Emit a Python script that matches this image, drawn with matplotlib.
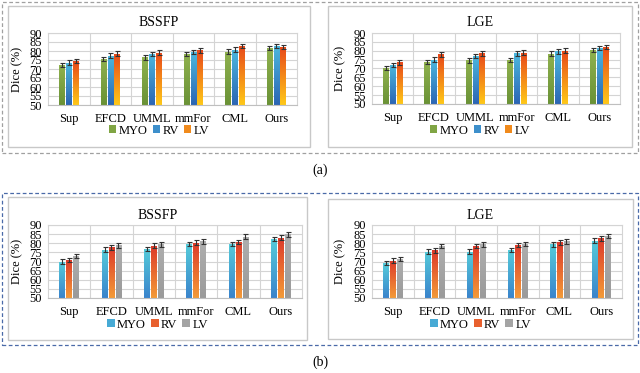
import numpy as np
import matplotlib
matplotlib.use('Agg')
import matplotlib.pyplot as plt
from matplotlib.colors import LinearSegmentedColormap
from matplotlib.patches import Rectangle, Patch

plt.rcParams['font.family'] = ['Liberation Serif', 'DejaVu Serif']

methods = ['Sup', 'EFCD', 'UMML', 'mmFor', 'CML', 'Ours']
series = ['MYO', 'RV', 'LV']
yticks = [50, 55, 60, 65, 70, 75, 80, 85, 90]

# (a) BSSFP
a_bssfp_myo = [72.1, 75.6, 76.5, 78.4, 79.7, 81.7]
a_bssfp_rv = [73.6, 77.3, 78.4, 79.5, 80.8, 82.8]
a_bssfp_lv = [74.3, 78.6, 79.1, 80.4, 82.8, 82.3]
# (a) LGE
a_lge_myo = [70.1, 73.6, 74.6, 74.7, 78.3, 80.3]
a_lge_rv = [72.0, 74.9, 77.2, 78.5, 79.6, 81.6]
a_lge_lv = [73.4, 77.9, 78.5, 79.0, 80.1, 82.2]
# (b) BSSFP
b_bssfp_myo = [70.0, 76.4, 76.9, 79.5, 79.6, 82.2]
b_bssfp_rv = [70.9, 77.8, 78.7, 80.4, 80.7, 83.1]
b_bssfp_lv = [73.1, 78.9, 79.5, 81.1, 83.5, 84.9]
# (b) LGE
b_lge_myo = [69.1, 75.3, 75.3, 76.2, 79.5, 81.5]
b_lge_rv = [70.5, 76.2, 78.4, 79.1, 80.5, 82.7]
b_lge_lv = [71.3, 78.5, 79.5, 79.6, 81.1, 84.0]

# error bar half-widths (estimated)
err_myo = [1.2, 1.3, 1.3, 1.2, 1.3, 1.2]
err_rv = [1.2, 1.4, 1.2, 1.3, 1.3, 1.2]
err_lv = [1.2, 1.3, 1.3, 1.3, 1.3, 1.3]

W, H = 640, 373
fig = plt.figure(figsize=(W / 100, H / 100), dpi=100)


def frect(x0, y0, x1, y1):
    return [x0 / W, 1 - y1 / H, (x1 - x0) / W, (y1 - y0) / H]


def cm(bottom, top):
    return LinearSegmentedColormap.from_list('g', [bottom, top])


cm_a = [cm('#6a9236', '#8fb14e'), cm('#2c66b4', '#4cb8de'), cm('#ffc818', '#e8481a')]
cm_b = [cm('#3a84cc', '#55cbda'), cm('#f39a38', '#dd3a2a'), cm('#9a9a9a', '#aeaeae')]
leg_a = ['#80a544', '#3d8fcb', '#f08a1c']
leg_b = ['#47aad5', '#e8602e', '#a4a4a4']

# outer dashed boxes
fig.patches.append(Rectangle((2 / W, 1 - 153 / H), 636 / W, 151 / H, transform=fig.transFigure,
                             fill=False, ec='#a0a0a0', ls=(0, (3, 2)), lw=0.9, zorder=-2))
fig.patches.append(Rectangle((2 / W, 1 - 345 / H), 636 / W, 152 / H, transform=fig.transFigure,
                             fill=False, ec='#4a6aa8', ls=(0, (3, 2)), lw=0.9, zorder=-2))

fig.text(320 / W, 1 - 170 / H, '(a)', ha='center', va='center', fontsize=10)
fig.text(320 / W, 1 - 362 / H, '(b)', ha='center', va='center', fontsize=10)


def panel(box, axr, title, vals, errs, cmaps, legc, title_y, leg_y, ylab_x):
    bx0, by0, bx1, by1 = box
    fig.patches.append(Rectangle((bx0 / W, 1 - by1 / H), (bx1 - bx0) / W, (by1 - by0) / H,
                                 transform=fig.transFigure, fill=False,
                                 ec='#c8c8c8', lw=1.0, zorder=-1))
    ax = fig.add_axes(frect(*axr))
    ax.set_facecolor('none')
    x = np.arange(len(methods))
    w = 0.13
    offs = [-0.165, 0.0, 0.165]
    for k in range(3):
        bars = ax.bar(x + offs[k], vals[k], w, color='none', edgecolor='none', zorder=2)
        for b in bars:
            x0 = b.get_x()
            im = ax.imshow(np.linspace(0, 1, 64).reshape(-1, 1), extent=[x0, x0 + w, 50, b.get_height()],
                           aspect='auto', cmap=cmaps[k], origin='lower', zorder=2)
            im.set_clip_path(b)
        ax.errorbar(x + offs[k], vals[k], yerr=errs[k], fmt='none', ecolor='#333333',
                    elinewidth=0.8, capsize=1.8, capthick=0.8, zorder=3)
    ax.set_xlim(-0.5, 5.5)
    ax.set_ylim(50, 90)
    ax.set_yticks(yticks)
    ax.set_yticklabels([str(t) for t in yticks], fontsize=9)
    ax.set_xticks(x)
    ax.set_xticklabels(methods, fontsize=9)
    ax.set_xticks(np.arange(0.5, 5.5, 1), minor=True)
    ax.tick_params(axis='x', which='both', length=0, pad=6)
    ax.tick_params(axis='y', length=0, pad=4.5)
    ax.yaxis.grid(True, color='#d4d4d4', lw=0.8)
    ax.xaxis.grid(True, which='minor', color='#d4d4d4', lw=0.8)
    ax.set_axisbelow(True)
    for s in ['top', 'right', 'left']:
        ax.spines[s].set_color('#d4d4d4')
        ax.spines[s].set_linewidth(0.8)
    ax.spines['bottom'].set_color('#bfbfbf')
    ax.spines['bottom'].set_linewidth(0.8)
    cx = (bx0 + bx1) / 2
    fig.text(cx / W, 1 - title_y / H, title, ha='center', va='center', fontsize=10)
    fig.text(ylab_x / W, 1 - (axr[1] + axr[3]) / 2 / H, 'Dice (%)', rotation=90,
             ha='center', va='center', fontsize=9)
    handles = [Patch(facecolor=c, edgecolor='none') for c in legc]
    fig.legend(handles, series, loc='center', bbox_to_anchor=(cx / W, 1 - leg_y / H), ncol=3,
               frameon=False, fontsize=9, handlelength=0.6, handleheight=0.6,
               handletextpad=0.2, columnspacing=0.4, borderpad=0, borderaxespad=0)


panel((8, 6, 310, 147), (48, 33, 297, 105), 'BSSFP',
      [a_bssfp_myo, a_bssfp_rv, a_bssfp_lv], [err_myo, err_rv, err_lv], cm_a, leg_a, 23, 130.5, 17)
panel((328, 6, 632, 147), (372, 33, 620, 104), 'LGE',
      [a_lge_myo, a_lge_rv, a_lge_lv], [err_myo, err_rv, err_lv], cm_a, leg_a, 23, 130.5, 340)
panel((8, 197, 307, 340), (48, 225, 302, 298), 'BSSFP',
      [b_bssfp_myo, b_bssfp_rv, b_bssfp_lv], [err_myo, err_rv, err_lv], cm_b, leg_b, 215, 324.5, 17)
panel((328, 199, 633, 339), (372, 225, 622, 298), 'LGE',
      [b_lge_myo, b_lge_rv, b_lge_lv], [err_myo, err_rv, err_lv], cm_b, leg_b, 215, 324.5, 340)

fig.savefig('out.png', dpi=100)
